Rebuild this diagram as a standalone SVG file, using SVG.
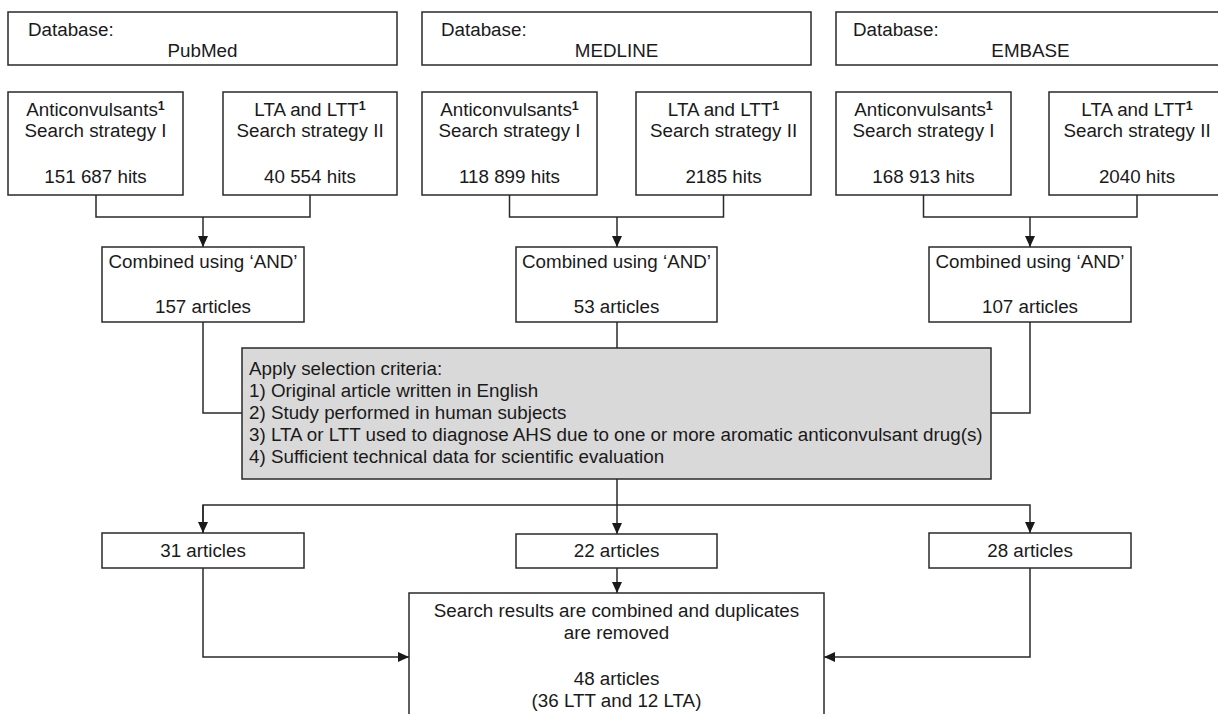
<svg xmlns="http://www.w3.org/2000/svg" width="1218" height="714" viewBox="0 0 1218 714">
<style>
.box{fill:#fff;stroke:#2a2a2a;stroke-width:1.5}
.grey{fill:#d9d9d9;stroke:#2a2a2a;stroke-width:1.5}
text{font-family:"Liberation Sans",Arial,sans-serif;font-size:18.8px;fill:#1a1a1a}
.c{text-anchor:middle}
.sup{font-size:12.5px;font-weight:bold}
.conn path{fill:none;stroke:#2a2a2a;stroke-width:1.5}
</style>
<defs>
<marker id="ah" markerUnits="userSpaceOnUse" markerWidth="11" markerHeight="10" refX="11" refY="5" orient="auto">
<path d="M0,0 L11,5 L0,10 z" fill="#1a1a1a"/>
</marker>
</defs>
<rect width="1218" height="714" fill="#fff"/>
<g class="conn" id="connectors">
<path d="M96,195 V217 H310 V195"/>
<path d="M203,217 V247" marker-end="url(#ah)"/>
<path d="M509.5,195 V217 H723.5 V195"/>
<path d="M617,217 V247" marker-end="url(#ah)"/>
<path d="M923.5,195 V217 H1137 V195"/>
<path d="M1030,217 V247" marker-end="url(#ah)"/>
<path d="M203,322 V413 H242"/>
<path d="M1030,322 V413 H991"/>
<path d="M617,322 V348"/>
<path d="M617,479 V534" marker-end="url(#ah)"/>
<path d="M203,533 V505 H1030 V533" marker-end="url(#ah)"/>
<path d="M203,505 V533" marker-end="url(#ah)"/>
<path d="M617,568 V593" marker-end="url(#ah)"/>
<path d="M203,568 V657 H409" marker-end="url(#ah)"/>
<path d="M1030,568 V657 H824" marker-end="url(#ah)"/>
</g>
<g id="db-pubmed"><rect class="box" x="8" y="12" width="389" height="53"/><text x="28" y="36">Database:</text><text class="c" x="202.5" y="57">PubMed</text></g>
<g id="db-medline"><rect class="box" x="422" y="12" width="389" height="53"/><text x="441" y="36">Database:</text><text class="c" x="616.5" y="57">MEDLINE</text></g>
<g id="db-embase"><rect class="box" x="836" y="12" width="389" height="53"/><text x="853" y="36">Database:</text><text class="c" x="1030.5" y="57">EMBASE</text></g>
<g id="pm-anti"><rect class="box" x="8" y="92" width="175" height="103"/><text class="c" x="95.5" y="116">Anticonvulsants<tspan class="sup" dy="-6">1</tspan></text><text class="c" x="95.5" y="137">Search strategy I</text><text class="c" x="95.5" y="183">151 687 hits</text></g>
<g id="pm-lta"><rect class="box" x="223" y="92" width="174" height="103"/><text class="c" x="310" y="116">LTA and LTT<tspan class="sup" dy="-6">1</tspan></text><text class="c" x="310" y="137">Search strategy II</text><text class="c" x="310" y="183">40 554 hits</text></g>
<g id="ml-anti"><rect class="box" x="422" y="92" width="175" height="103"/><text class="c" x="509.5" y="116">Anticonvulsants<tspan class="sup" dy="-6">1</tspan></text><text class="c" x="509.5" y="137">Search strategy I</text><text class="c" x="509.5" y="183">118 899 hits</text></g>
<g id="ml-lta"><rect class="box" x="636" y="92" width="175" height="103"/><text class="c" x="723.5" y="116">LTA and LTT<tspan class="sup" dy="-6">1</tspan></text><text class="c" x="723.5" y="137">Search strategy II</text><text class="c" x="723.5" y="183">2185 hits</text></g>
<g id="em-anti"><rect class="box" x="836" y="92" width="175" height="103"/><text class="c" x="923.5" y="116">Anticonvulsants<tspan class="sup" dy="-6">1</tspan></text><text class="c" x="923.5" y="137">Search strategy I</text><text class="c" x="923.5" y="183">168 913 hits</text></g>
<g id="em-lta"><rect class="box" x="1049" y="92" width="176" height="103"/><text class="c" x="1137" y="116">LTA and LTT<tspan class="sup" dy="-6">1</tspan></text><text class="c" x="1137" y="137">Search strategy II</text><text class="c" x="1137" y="183">2040 hits</text></g>
<g id="pm-comb"><rect class="box" x="102" y="247" width="202" height="75"/><text class="c" x="203" y="268">Combined using ‘AND’</text><text class="c" x="203" y="313">157 articles</text></g>
<g id="ml-comb"><rect class="box" x="516" y="247" width="201" height="75"/><text class="c" x="616.5" y="268">Combined using ‘AND’</text><text class="c" x="616.5" y="313">53 articles</text></g>
<g id="em-comb"><rect class="box" x="929" y="247" width="202" height="75"/><text class="c" x="1030" y="268">Combined using ‘AND’</text><text class="c" x="1030" y="313">107 articles</text></g>
<g id="criteria"><rect class="grey" x="242" y="348" width="749" height="131"/>
<text x="249" y="375">Apply selection criteria:</text>
<text x="249" y="397">1) Original article written in English</text>
<text x="249" y="419">2) Study performed in human subjects</text>
<text x="249" y="441">3) LTA or LTT used to diagnose AHS due to one or more aromatic anticonvulsant drug(s)</text>
<text x="249" y="463">4) Sufficient technical data for scientific evaluation</text></g>
<g id="r31"><rect class="box" x="102" y="533" width="202" height="35"/><text class="c" x="203" y="557">31 articles</text></g>
<g id="r22"><rect class="box" x="516" y="534" width="201" height="34"/><text class="c" x="616.5" y="557">22 articles</text></g>
<g id="r28"><rect class="box" x="929" y="533" width="202" height="35"/><text class="c" x="1030" y="557">28 articles</text></g>
<g id="final"><rect class="box" x="409" y="593" width="415" height="130"/>
<text class="c" x="616.5" y="617">Search results are combined and duplicates</text>
<text class="c" x="616.5" y="639">are removed</text>
<text class="c" x="616.5" y="685">48 articles</text>
<text class="c" x="616.5" y="707">(36 LTT and 12 LTA)</text></g>
</svg>
